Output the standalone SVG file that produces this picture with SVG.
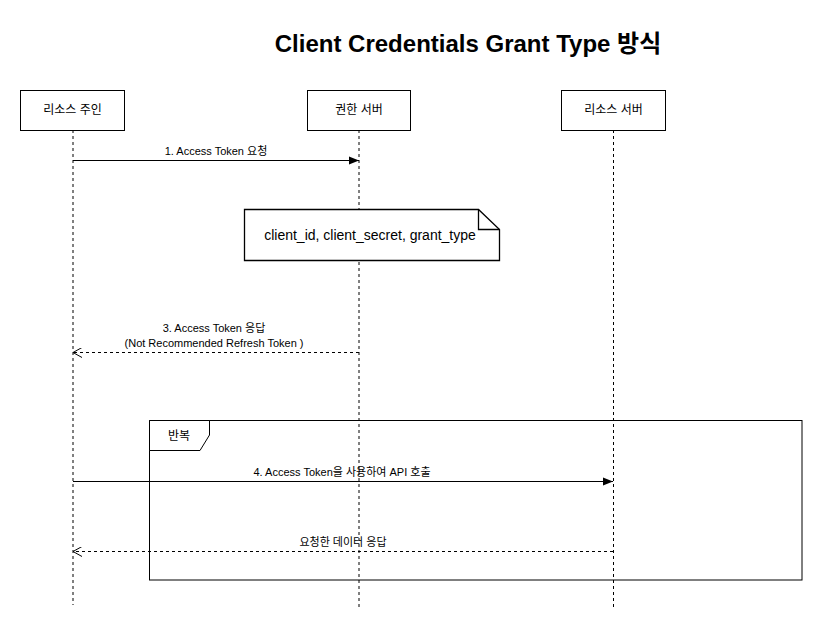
<svg xmlns="http://www.w3.org/2000/svg" width="823" height="631" viewBox="0 0 823 631">
<style>
text{font-family:"Liberation Sans",Arial,"Noto Sans CJK KR",sans-serif;fill:#000}
.box{fill:#fff;stroke:#000;stroke-width:1}
.life{stroke:#000;stroke-width:1;stroke-dasharray:3 3;fill:none}
.msg{stroke:#000;stroke-width:1;fill:none}
.ret{stroke:#000;stroke-width:1;fill:none;stroke-dasharray:3 3}
.lbl{font-size:11px;text-anchor:middle}
.node{font-size:12px;text-anchor:middle}
</style>
<defs>
<marker id="filled" viewBox="0 0 10 10" refX="10" refY="5" markerWidth="10" markerHeight="10" markerUnits="userSpaceOnUse" orient="auto">
<path d="M0,1 L10,5 L0,9 Z" fill="#000"/>
</marker>
<marker id="open" viewBox="0 0 10 10" refX="9" refY="5" markerWidth="10" markerHeight="10" markerUnits="userSpaceOnUse" orient="auto">
<path d="M0,0 L9,5 L0,10" fill="none" stroke="#000" stroke-width="1"/>
</marker>
</defs>
<rect width="823" height="631" fill="#fff"/>
<text x="468" y="52" font-size="24" font-weight="bold" text-anchor="middle">Client Credentials Grant Type 방식</text>

<g id="lifelines">
<line class="life" x1="73" y1="130" x2="73" y2="605"/>
<line class="life" x1="359" y1="130" x2="359" y2="608"/>
<line class="life" x1="613.5" y1="130" x2="613.5" y2="608"/>
</g>

<g id="frame-loop">
<rect x="149.5" y="420.5" width="652.5" height="159.5" fill="none" stroke="#000"/>
<path d="M149.5,420.5 H209.5 V435 L200,450.5 H149.5 Z" fill="#fff" stroke="#000"/>
<text x="168" y="440" font-size="12">반복</text>
</g>

<g id="node-owner">
<rect class="box" x="20.5" y="90.5" width="104" height="40"/>
<text class="node" x="72.5" y="114">리소스 주인</text>
</g>
<g id="node-auth">
<rect class="box" x="307.5" y="90.5" width="103" height="40"/>
<text class="node" x="359" y="114">권한 서버</text>
</g>
<g id="node-resource">
<rect class="box" x="561.5" y="90.5" width="104" height="40"/>
<text class="node" x="613.5" y="114">리소스 서버</text>
</g>

<g id="note">
<path d="M244.5,209.5 H478.5 L499.5,229.5 V260.5 H244.5 Z" fill="#fff" stroke="#000" stroke-width="1.3"/>
<path d="M478.5,209.5 V229.5 H499.5" fill="none" stroke="#000" stroke-width="1.3"/>
<text x="370" y="240" font-size="14" text-anchor="middle">client_id, client_secret, grant_type</text>
</g>

<g id="connectors">
<line class="msg" x1="73" y1="160.5" x2="359" y2="160.5" marker-end="url(#filled)"/>
<text class="lbl" x="216" y="155">1. Access Token 요청</text>

<line class="ret" x1="359" y1="352.5" x2="73" y2="352.5" marker-end="url(#open)"/>
<text class="lbl" x="214" y="332">3. Access Token 응답</text>
<text class="lbl" x="214" y="347">(Not Recommended Refresh Token )</text>

<line class="msg" x1="73" y1="481.5" x2="613" y2="481.5" marker-end="url(#filled)"/>
<text class="lbl" x="342" y="476">4. Access Token을 사용하여 API 호출</text>

<line class="ret" x1="613" y1="551.5" x2="73" y2="551.5" marker-end="url(#open)"/>
<text class="lbl" x="343" y="546">요청한 데이터 응답</text>
</g>
</svg>
